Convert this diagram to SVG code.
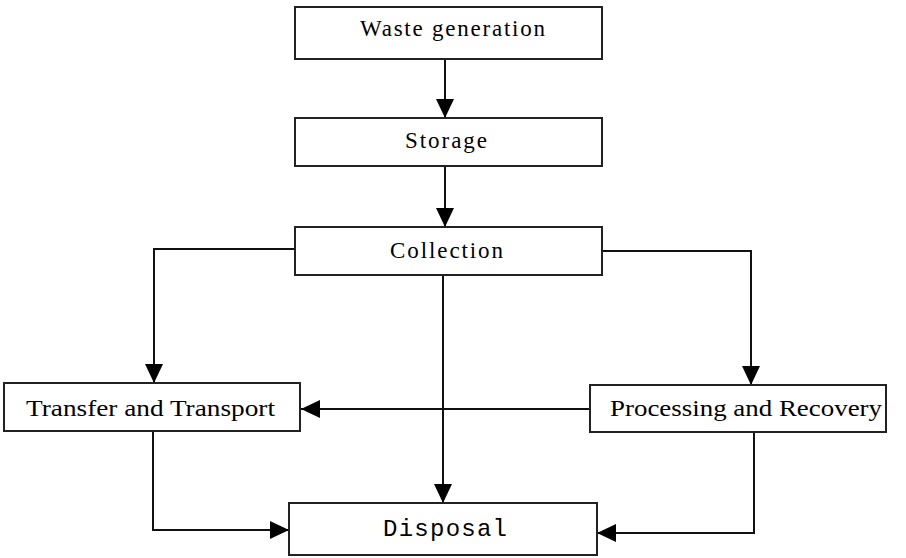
<svg xmlns="http://www.w3.org/2000/svg" width="906" height="558" viewBox="0 0 906 558">
<defs>
<marker id="arr" markerUnits="userSpaceOnUse" markerWidth="20" markerHeight="18" viewBox="0 0 20 18" refX="19" refY="9" orient="auto">
<path d="M0,0 L19,9 L0,18 Z" fill="#000"/>
</marker>
<style>
.box{fill:#fff;stroke:#222;stroke-width:2}
.t{font-family:"Liberation Serif","Times New Roman",serif;font-size:23px;fill:#000}
.m{font-family:"Liberation Mono","Courier New",monospace;font-size:24px;fill:#000}
.c{fill:none;stroke:#111;stroke-width:2}
</style>
</defs>
<rect width="906" height="558" fill="#fff"/>
<g id="connectors">
<path class="c" d="M445,59 V118" marker-end="url(#arr)"/>
<path class="c" d="M445,166 V227" marker-end="url(#arr)"/>
<path class="c" d="M295,249 H154 V383" marker-end="url(#arr)"/>
<path class="c" d="M602,251 H751 V385" marker-end="url(#arr)"/>
<path class="c" d="M443,275 V503" marker-end="url(#arr)"/>
<path class="c" d="M590,409 H301" marker-end="url(#arr)"/>
<path class="c" d="M153,431 V530 H289" marker-end="url(#arr)"/>
<path class="c" d="M754,432 V533 H597" marker-end="url(#arr)"/>
</g>
<g id="waste">
<rect class="box" x="295" y="7" width="307" height="52"/>
<text class="t" x="360" y="36" textLength="185" lengthAdjust="spacing">Waste generation</text>
</g>
<g id="storage">
<rect class="box" x="295" y="118" width="307" height="48"/>
<text class="t" x="405" y="148" textLength="82" lengthAdjust="spacing">Storage</text>
</g>
<g id="collection">
<rect class="box" x="295" y="227" width="307" height="48"/>
<text class="t" x="390" y="258" textLength="113" lengthAdjust="spacing">Collection</text>
</g>
<g id="transfer">
<rect class="box" x="4" y="383" width="296" height="48"/>
<text class="t" x="26" y="416" textLength="249" lengthAdjust="spacingAndGlyphs">Transfer and Transport</text>
</g>
<g id="processing">
<rect class="box" x="590" y="385" width="296" height="47"/>
<text class="t" x="610" y="416" textLength="272" lengthAdjust="spacingAndGlyphs">Processing and Recovery</text>
</g>
<g id="disposal">
<rect class="box" x="289" y="503" width="308" height="52"/>
<text class="m" x="383" y="536" textLength="124" lengthAdjust="spacing">Disposal</text>
</g>
</svg>
